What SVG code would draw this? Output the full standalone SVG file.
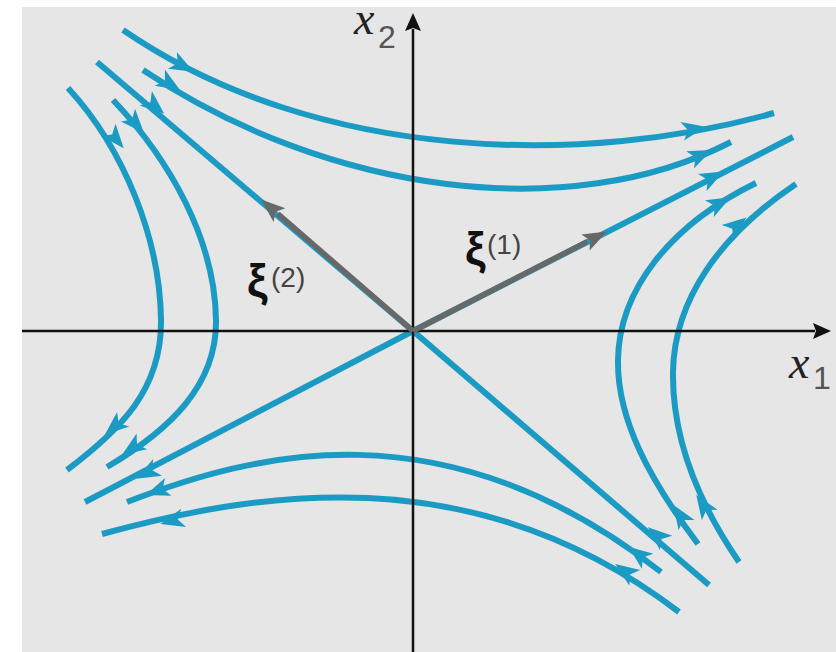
<svg xmlns="http://www.w3.org/2000/svg" xmlns:xlink="http://www.w3.org/1999/xlink" width="836" height="652" viewBox="0 0 836 652">
  <style>
    .flow { fill: none; stroke: #1b9bc4; stroke-width: 6; stroke-linecap: butt; }
    .axis { fill: none; stroke: #111; stroke-width: 2.5; }
    .vec { fill: none; stroke: #686868; stroke-width: 5.5; }
    .var { font-family: "Liberation Serif", "Times New Roman", serif; font-style: italic; font-size: 46px; fill: #222; }
    .sub { font-family: "Liberation Sans", Arial, sans-serif; font-size: 32px; fill: #555; }
    .xi { font-family: "Liberation Sans", "DejaVu Sans", sans-serif; font-weight: bold; font-size: 46px; fill: #111; }
    .sup { font-family: "Liberation Sans", Arial, sans-serif; font-size: 28px; fill: #444; }
  </style>
  <defs>
    <path id="bh" d="M12,0 L-12,-9.5 L-6,0 L-12,9.5 Z" fill="#1b9bc4"/>
    <marker id="gh" markerUnits="userSpaceOnUse" markerWidth="28" markerHeight="22" refX="2" refY="9" orient="auto">
      <path d="M0,0 L24,9 L0,18 L5,9 Z" fill="#686868"/>
    </marker>
    <marker id="kh" markerUnits="userSpaceOnUse" markerWidth="24" markerHeight="20" refX="2" refY="8" orient="auto">
      <path d="M0,0 L18,8 L0,16 L3,8 Z" fill="#111"/>
    </marker>
  </defs>

  <rect id="background" x="22" y="7" width="814" height="645" fill="#e6e6e6"/>

  <g id="flow-lines">
    <path id="curve-a" class="flow" d="M123,30 C320,165 590,165 774,113"/>
    <path id="curve-b" class="flow" d="M143,70 C330,195 570,225 731,142"/>
    <path id="sep-ul" class="flow" d="M97,62 L413,331"/>
    <path id="sep-ur" class="flow" d="M413,331 L793,137"/>
    <path id="sep-ll" class="flow" d="M413,331 L85,502"/>
    <path id="sep-lr" class="flow" d="M709,585 L413,331"/>
    <path id="curve-c" class="flow" d="M698,544 C650,480 617,420 618,360 C619,290 670,225 756,183"/>
    <path id="curve-d" class="flow" d="M739,562 C700,505 672,440 673,372 C674,300 720,235 796,184"/>
    <path id="curve-e" class="flow" d="M661,572 C441,400 250,455 127,502"/>
    <path id="curve-f" class="flow" d="M679,612 C470,452 250,494 102,534"/>
    <path id="curve-g" class="flow" d="M68,88 C125,150 160,240 161,320 C162,390 120,430 67,470"/>
    <path id="curve-h" class="flow" d="M113,100 C170,160 215,240 216,320 C217,385 170,430 107,467"/>
  </g>

  <g id="flow-arrows">
    <use xlink:href="#bh" href="#bh" transform="translate(183,66) rotate(28)"/>
    <use xlink:href="#bh" href="#bh" transform="translate(694,129) rotate(-11)"/>
    <use xlink:href="#bh" href="#bh" transform="translate(170,84) rotate(32)"/>
    <use xlink:href="#bh" href="#bh" transform="translate(701,155) rotate(-24)"/>
    <use xlink:href="#bh" href="#bh" transform="translate(155,106) rotate(40)"/>
    <use xlink:href="#bh" href="#bh" transform="translate(713,177) rotate(-27)"/>
    <use xlink:href="#bh" href="#bh" transform="translate(720,203) rotate(-28)"/>
    <use xlink:href="#bh" href="#bh" transform="translate(680,515) rotate(-123)"/>
    <use xlink:href="#bh" href="#bh" transform="translate(737,225) rotate(-38)"/>
    <use xlink:href="#bh" href="#bh" transform="translate(703,505) rotate(-124)"/>
    <use xlink:href="#bh" href="#bh" transform="translate(657,535) rotate(-139)"/>
    <use xlink:href="#bh" href="#bh" transform="translate(147,473) rotate(152)"/>
    <use xlink:href="#bh" href="#bh" transform="translate(638,554) rotate(-143)"/>
    <use xlink:href="#bh" href="#bh" transform="translate(157,491) rotate(160)"/>
    <use xlink:href="#bh" href="#bh" transform="translate(625,571) rotate(-145)"/>
    <use xlink:href="#bh" href="#bh" transform="translate(172,521) rotate(165)"/>
    <use xlink:href="#bh" href="#bh" transform="translate(116,139) rotate(50)"/>
    <use xlink:href="#bh" href="#bh" transform="translate(114,427) rotate(140)"/>
    <use xlink:href="#bh" href="#bh" transform="translate(136,124) rotate(48)"/>
    <use xlink:href="#bh" href="#bh" transform="translate(132,448) rotate(146)"/>
  </g>

  <g id="axes">
    <line id="axis-x1" class="axis" x1="22" y1="331" x2="815" y2="331" marker-end="url(#kh)"/>
    <line id="axis-x2" class="axis" x1="413" y1="652" x2="413" y2="29" marker-end="url(#kh)"/>
  </g>

  <g id="eigenvectors">
    <line id="xi1" class="vec" x1="413" y1="331" x2="587.3" y2="241.6" marker-end="url(#gh)"/>
    <line id="xi2" class="vec" x1="413" y1="331" x2="277.9" y2="213.8" marker-end="url(#gh)"/>
  </g>

  <g id="labels">
    <g id="label-x2"><text class="var" x="354" y="34">x</text><text class="sub" x="378" y="48">2</text></g>
    <g id="label-x1"><text class="var" x="789" y="378">x</text><text class="sub" x="813" y="389">1</text></g>
    <g id="label-xi2"><text class="xi" x="247" y="297">ξ</text><text class="sup" x="271" y="287">(2)</text></g>
    <g id="label-xi1"><text class="xi" x="465" y="265">ξ</text><text class="sup" x="487" y="254">(1)</text></g>
  </g>
</svg>
